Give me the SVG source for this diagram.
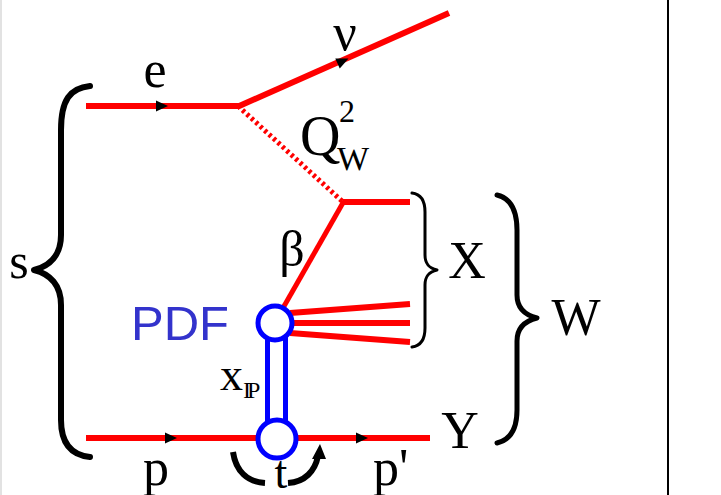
<svg xmlns="http://www.w3.org/2000/svg" width="721" height="495" viewBox="0 0 721 495">
<style>
.red{stroke:#ff0000;fill:none;stroke-linecap:butt}
.blue{stroke:#0000ff;fill:none;stroke-width:5}
.brace{stroke:#000;fill:none;stroke-linecap:round;stroke-linejoin:round}
.lbl{font-family:"Liberation Serif","Times New Roman",serif;fill:#000}
.sans{font-family:"Liberation Sans",Arial,sans-serif}
</style>
<defs>
<path id="arr" d="M-6,-5.5 L6,0 L-6,5.5 Z" fill="#000"/>
</defs>
<rect x="0" y="0" width="721" height="495" fill="#fff"/>
<line x1="1" y1="0" x2="1" y2="495" stroke="#d8d8d8" stroke-width="1.5"/>
<line x1="668" y1="0" x2="668" y2="495" stroke="#000" stroke-width="2"/>

<g id="connectors">
<line class="red" x1="86" y1="106" x2="239" y2="106" stroke-width="6"/>
<line class="red" x1="237" y1="107" x2="449" y2="13" stroke-width="6"/>
<line class="red" x1="238" y1="106" x2="343" y2="202" stroke-width="5" stroke-dasharray="3,3"/>
<line class="red" x1="343" y1="202" x2="410" y2="202" stroke-width="6"/>
<line class="red" x1="344" y1="201" x2="283" y2="308" stroke-width="5"/>
<line class="red" x1="290" y1="313" x2="410" y2="304" stroke-width="6"/>
<line class="red" x1="290" y1="323" x2="410" y2="323" stroke-width="6"/>
<line class="red" x1="290" y1="333" x2="410" y2="342" stroke-width="6"/>
<line class="red" x1="86" y1="438" x2="430" y2="438" stroke-width="6"/>
<use href="#arr" transform="translate(162,106)"/>
<use href="#arr" transform="translate(343,61) rotate(-24)"/>
<use href="#arr" transform="translate(171,438)"/>
<use href="#arr" transform="translate(362,438)"/>
<line class="blue" x1="267.5" y1="335" x2="267.5" y2="425"/>
<line class="blue" x1="285.5" y1="335" x2="285.5" y2="425"/>
<path d="M233,452 C236,472 248,482 265,483" stroke="#000" stroke-width="6" fill="none"/>
<path d="M288,483 C305,482 315,471 318,456" stroke="#000" stroke-width="6" fill="none"/>
<path d="M320,444 L312,459 L326,459 Z" fill="#000"/>
</g>

<g id="node-pdf">
<circle cx="275" cy="323" r="17" fill="#fff" stroke="#0000ff" stroke-width="5"/>
<text class="sans" x="131" y="340" font-size="49" fill="#3333cc">PDF</text>
</g>
<g id="node-vertex-p">
<circle cx="277" cy="439" r="19" fill="#fff" stroke="#0000ff" stroke-width="5"/>
</g>

<g id="braces">
<path class="brace" stroke-width="6" d="M90,86 C70,88 61,100 61,130 L61,235 C61,255 50,266 34,270 C50,274 61,285 61,305 L61,420 C61,442 70,455 90,457"/>
<path class="brace" stroke-width="3" d="M412,193 C420,194 425,200 425,212 L425,255 C425,264 429,268 437,270 C429,272 425,276 425,285 L425,328 C425,340 420,346 412,347"/>
<path class="brace" stroke-width="5" d="M497,195 C510,198 517,210 517,230 L517,295 C517,308 525,315 537,318 C525,321 517,328 517,341 L517,410 C517,430 510,440 497,443"/>
</g>

<g id="labels" class="lbl">
<text class="lbl" x="155" y="87" font-size="52" text-anchor="middle">e</text>
<text class="lbl" x="345" y="50" font-size="52" text-anchor="middle">ν</text>
<text class="lbl" x="300" y="155" font-size="56">Q</text>
<text class="lbl" x="339" y="122" font-size="32">2</text>
<text class="lbl" x="337" y="170" font-size="34">W</text>
<text class="lbl" x="292" y="266" font-size="50" text-anchor="middle">β</text>
<text class="lbl" x="467" y="278" font-size="52" text-anchor="middle">X</text>
<text class="lbl" x="576" y="335" font-size="52" text-anchor="middle">W</text>
<text class="lbl" x="460" y="448" font-size="52" text-anchor="middle">Y</text>
<text class="lbl" x="19" y="278" font-size="50" text-anchor="middle">s</text>
<text class="lbl" x="220" y="390" font-size="46">x</text>
<text class="lbl" x="243" y="398" font-size="24" letter-spacing="-4">IP</text>
<text class="lbl" x="156" y="485" font-size="52" text-anchor="middle">p</text>
<text class="lbl" x="281" y="488" font-size="46" text-anchor="middle">t</text>
<text class="lbl" x="373" y="485" font-size="52">p'</text>
</g>
</svg>
